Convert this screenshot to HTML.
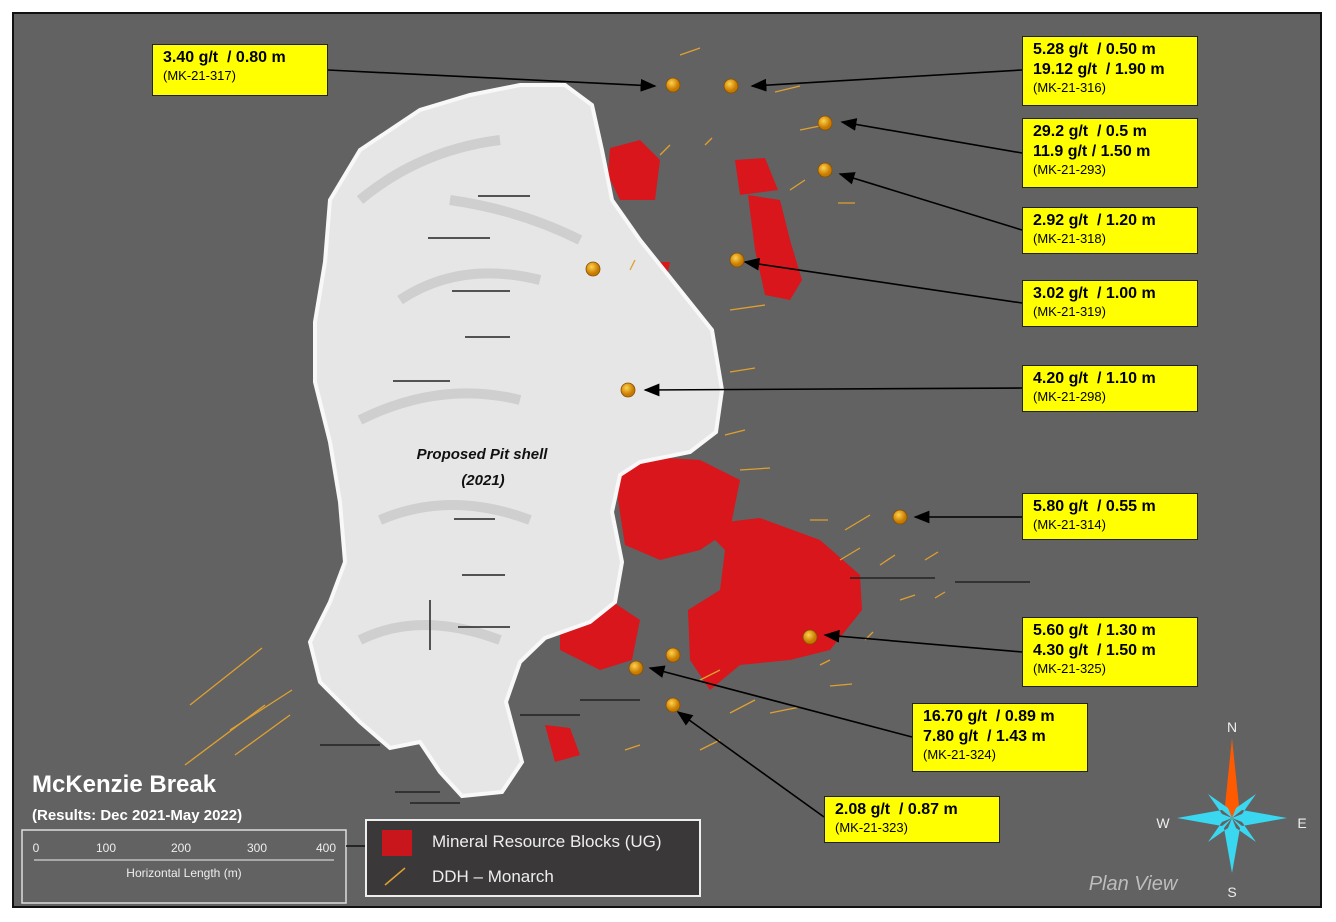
<!DOCTYPE html>
<html><head><meta charset="utf-8"><style>
body{margin:0;background:#fff;width:1336px;height:922px;overflow:hidden;font-family:"Liberation Sans",sans-serif}
#map{position:absolute;left:12px;top:12px;width:1310px;height:896px;background:#626262;border:2px solid #111;box-sizing:border-box}
.lb{position:absolute;background:#ffff00;border:1.5px solid #222;box-sizing:border-box;padding:3px 0 0 10px;font-weight:bold;font-size:16px;line-height:20px;color:#000}
.lb small{display:block;font-weight:normal;font-size:13px;line-height:15px}
</style></head><body>
<div id="map"></div>
<svg width="1336" height="922" style="position:absolute;left:0;top:0">
<defs>
<marker id="ar" markerWidth="10" markerHeight="8" refX="9" refY="4" orient="auto"><path d="M0,0 L10,4 L0,8 Z" fill="#000"/></marker>
<radialGradient id="dot" cx="40%" cy="35%"><stop offset="0" stop-color="#ffd24d"/><stop offset="1" stop-color="#c77a00"/></radialGradient>
</defs>
<!-- red blocks -->
<g fill="#d8161c">
<path d="M610,148 L640,140 L660,160 L655,200 L620,200 L608,175Z"/>
<path d="M735,160 L765,158 L778,190 L740,195Z"/>
<path d="M748,195 L780,200 L790,240 L802,280 L790,300 L765,295 L755,250Z"/>
<path d="M620,455 L700,460 L740,480 L730,530 L700,550 L660,560 L625,545 L618,500Z"/>
<path d="M700,525 L760,518 L820,540 L860,575 L862,610 L830,650 L790,660 L740,665 L710,690 L690,660 L688,610 L720,590 L725,550Z"/>
<path d="M560,605 L610,600 L640,620 L632,660 L600,670 L560,650Z"/>
<path d="M545,725 L570,728 L580,755 L555,762Z"/>
<path d="M655,262 L670,262 L668,272 L655,270Z"/>
</g>
<!-- pit shell -->
<path d="M330,200 L360,150 L420,110 L470,95 L520,85 L565,85 L592,105 L602,150 L612,200 L640,240 L680,290 L712,330 L722,390 L716,432 L690,452 L640,462 L620,475 L612,512 L622,562 L615,602 L590,622 L545,638 L520,662 L506,702 L522,762 L502,792 L462,796 L440,772 L420,742 L390,748 L360,722 L320,682 L310,642 L330,602 L345,562 L340,502 L330,442 L315,382 L315,322 L325,262Z" fill="#e6e6e6" stroke="#f8f8f8" stroke-width="4"/>
<path d="M360,200 Q420,150 500,140 M400,300 Q460,260 540,280 M360,420 Q440,380 520,400 M380,520 Q450,490 530,520 M360,640 Q420,610 500,640 M450,200 Q520,210 580,240" stroke="#cfcfcf" stroke-width="10" fill="none"/>
<g stroke="#222" stroke-width="1.5">
<line x1="478" y1="196" x2="530" y2="196"/><line x1="428" y1="238" x2="490" y2="238"/><line x1="452" y1="291" x2="510" y2="291"/><line x1="465" y1="337" x2="510" y2="337"/><line x1="393" y1="381" x2="450" y2="381"/><line x1="454" y1="519" x2="495" y2="519"/><line x1="462" y1="575" x2="505" y2="575"/><line x1="458" y1="627" x2="510" y2="627"/><line x1="320" y1="745" x2="380" y2="745"/><line x1="395" y1="792" x2="440" y2="792"/><line x1="410" y1="803" x2="460" y2="803"/><line x1="955" y1="582" x2="1030" y2="582"/><line x1="850" y1="578" x2="935" y2="578"/><line x1="580" y1="700" x2="640" y2="700"/><line x1="520" y1="715" x2="580" y2="715"/><line x1="430" y1="600" x2="430" y2="650"/>
</g>
<!-- ddh -->
<g stroke="#e0a030" stroke-width="1.3">
<line x1="185" y1="765" x2="265" y2="705"/><line x1="190" y1="705" x2="262" y2="648"/><line x1="230" y1="730" x2="292" y2="690"/><line x1="235" y1="755" x2="290" y2="715"/>
<line x1="680" y1="55" x2="700" y2="48"/><line x1="775" y1="92" x2="800" y2="86"/><line x1="800" y1="130" x2="820" y2="126"/><line x1="790" y1="190" x2="805" y2="180"/><line x1="838" y1="203" x2="855" y2="203"/><line x1="730" y1="310" x2="765" y2="305"/><line x1="730" y1="372" x2="755" y2="368"/><line x1="725" y1="435" x2="745" y2="430"/><line x1="740" y1="470" x2="770" y2="468"/><line x1="810" y1="520" x2="828" y2="520"/><line x1="845" y1="530" x2="870" y2="515"/><line x1="840" y1="560" x2="860" y2="548"/><line x1="880" y1="565" x2="895" y2="555"/><line x1="925" y1="560" x2="938" y2="552"/><line x1="900" y1="600" x2="915" y2="595"/><line x1="935" y1="598" x2="945" y2="592"/><line x1="865" y1="640" x2="873" y2="632"/><line x1="820" y1="665" x2="830" y2="660"/><line x1="830" y1="686" x2="852" y2="684"/><line x1="770" y1="713" x2="800" y2="707"/><line x1="730" y1="713" x2="755" y2="700"/><line x1="700" y1="750" x2="720" y2="740"/><line x1="625" y1="750" x2="640" y2="745"/><line x1="700" y1="680" x2="720" y2="670"/><line x1="660" y1="155" x2="670" y2="145"/><line x1="705" y1="145" x2="712" y2="138"/><line x1="630" y1="270" x2="635" y2="260"/>
</g>
<!-- arrows -->
<g stroke="#000" stroke-width="1.6" fill="none" marker-end="url(#ar)">
<line x1="328" y1="70" x2="655" y2="86"/>
<line x1="1022" y1="70" x2="752" y2="86"/>
<line x1="1022" y1="153" x2="842" y2="122"/>
<line x1="1022" y1="230" x2="840" y2="174"/>
<line x1="1022" y1="303" x2="745" y2="262"/>
<line x1="1022" y1="388" x2="645" y2="390"/>
<line x1="1022" y1="517" x2="915" y2="517"/>
<line x1="1022" y1="652" x2="825" y2="635"/>
<line x1="912" y1="737" x2="650" y2="668"/>
<line x1="824" y1="817" x2="678" y2="712"/>
</g>
<g fill="url(#dot)" stroke="#8a5000" stroke-width="0.8">
<circle cx="673" cy="85" r="7"/><circle cx="731" cy="86" r="7"/><circle cx="825" cy="123" r="7"/><circle cx="825" cy="170" r="7"/><circle cx="593" cy="269" r="7"/><circle cx="737" cy="260" r="7"/><circle cx="628" cy="390" r="7"/><circle cx="900" cy="517" r="7"/><circle cx="810" cy="637" r="7"/><circle cx="673" cy="655" r="7"/><circle cx="636" cy="668" r="7"/><circle cx="673" cy="705" r="7"/>
</g>
<text x="482" y="459" font-family="Liberation Sans" font-weight="bold" font-style="italic" font-size="15" text-anchor="middle" fill="#111">Proposed Pit shell</text>
<text x="483" y="485" font-family="Liberation Sans" font-weight="bold" font-style="italic" font-size="15" text-anchor="middle" fill="#111">(2021)</text>
<!-- compass -->
<g transform="translate(1232,818)">
<path d="M0,-80 L7,-12 L0,0 L-7,-12Z" fill="#ff5a00"/>
<path d="M0,0 L55,0 L10,-8 Z M0,0 L55,0 L10,8Z M0,0 L-55,0 L-10,-8Z M0,0 L-55,0 L-10,8Z M0,0 L0,55 L-8,10Z M0,0 L0,55 L8,10Z M0,0 L24,-24 L4,-10Z M0,0 L24,-24 L10,-4Z M0,0 L-24,-24 L-4,-10Z M0,0 L-24,-24 L-10,-4Z M0,0 L24,24 L4,10Z M0,0 L24,24 L10,4Z M0,0 L-24,24 L-4,10Z M0,0 L-24,24 L-10,4Z" fill="#3ad8f0"/>
</g>
<g font-family="Liberation Sans" font-size="14" fill="#eee" text-anchor="middle">
<text x="1232" y="732">N</text><text x="1232" y="897">S</text><text x="1163" y="828">W</text><text x="1302" y="828">E</text>
</g>
<text x="1133" y="890" font-family="Liberation Sans" font-style="italic" font-size="20" fill="#bdbdbd" text-anchor="middle">Plan View</text>
<text x="32" y="792" font-family="Liberation Sans" font-weight="bold" font-size="24" fill="#fff">McKenzie Break</text>
<text x="32" y="820" font-family="Liberation Sans" font-weight="bold" font-size="15" fill="#fff">(Results: Dec 2021-May 2022)</text>
<rect x="22" y="830" width="324" height="73" fill="none" stroke="#ddd" stroke-width="1.5"/>
<line x1="34" y1="860" x2="334" y2="860" stroke="#eee"/>
<g font-family="Liberation Sans" font-size="12" fill="#eee" text-anchor="middle">
<text x="36" y="852">0</text><text x="106" y="852">100</text><text x="181" y="852">200</text><text x="257" y="852">300</text><text x="326" y="852">400</text>
<text x="184" y="877">Horizontal Length (m)</text></g>
<line x1="346" y1="846" x2="366" y2="846" stroke="#111" stroke-width="1.5"/>
<rect x="366" y="820" width="334" height="76" fill="#3a3838" stroke="#eee" stroke-width="2"/>
<rect x="382" y="830" width="30" height="26" fill="#c8161c"/>
<line x1="385" y1="885" x2="405" y2="868" stroke="#e0a030" stroke-width="1.5"/>
<text x="432" y="847" font-family="Liberation Sans" font-size="17" fill="#eee">Mineral Resource Blocks (UG)</text>
<text x="432" y="882" font-family="Liberation Sans" font-size="17" fill="#eee">DDH – Monarch</text>
</svg>
<div class="lb" style="left:152px;top:44px;width:176px;height:52px">3.40 g/t &nbsp;/ 0.80 m<small>(MK-21-317)</small></div>
<div class="lb" style="left:1022px;top:36px;width:176px;height:70px">5.28 g/t &nbsp;/ 0.50 m<br>19.12 g/t &nbsp;/ 1.90 m<small>(MK-21-316)</small></div>
<div class="lb" style="left:1022px;top:118px;width:176px;height:70px">29.2 g/t &nbsp;/ 0.5 m<br>11.9 g/t / 1.50 m<small>(MK-21-293)</small></div>
<div class="lb" style="left:1022px;top:207px;width:176px;height:47px">2.92 g/t &nbsp;/ 1.20 m<small>(MK-21-318)</small></div>
<div class="lb" style="left:1022px;top:280px;width:176px;height:47px">3.02 g/t &nbsp;/ 1.00 m<small>(MK-21-319)</small></div>
<div class="lb" style="left:1022px;top:365px;width:176px;height:47px">4.20 g/t &nbsp;/ 1.10 m<small>(MK-21-298)</small></div>
<div class="lb" style="left:1022px;top:493px;width:176px;height:47px">5.80 g/t &nbsp;/ 0.55 m<small>(MK-21-314)</small></div>
<div class="lb" style="left:1022px;top:617px;width:176px;height:70px">5.60 g/t &nbsp;/ 1.30 m<br>4.30 g/t &nbsp;/ 1.50 m<small>(MK-21-325)</small></div>
<div class="lb" style="left:912px;top:703px;width:176px;height:69px">16.70 g/t &nbsp;/ 0.89 m<br>7.80 g/t &nbsp;/ 1.43 m<small>(MK-21-324)</small></div>
<div class="lb" style="left:824px;top:796px;width:176px;height:47px">2.08 g/t &nbsp;/ 0.87 m<small>(MK-21-323)</small></div>
</body></html>
